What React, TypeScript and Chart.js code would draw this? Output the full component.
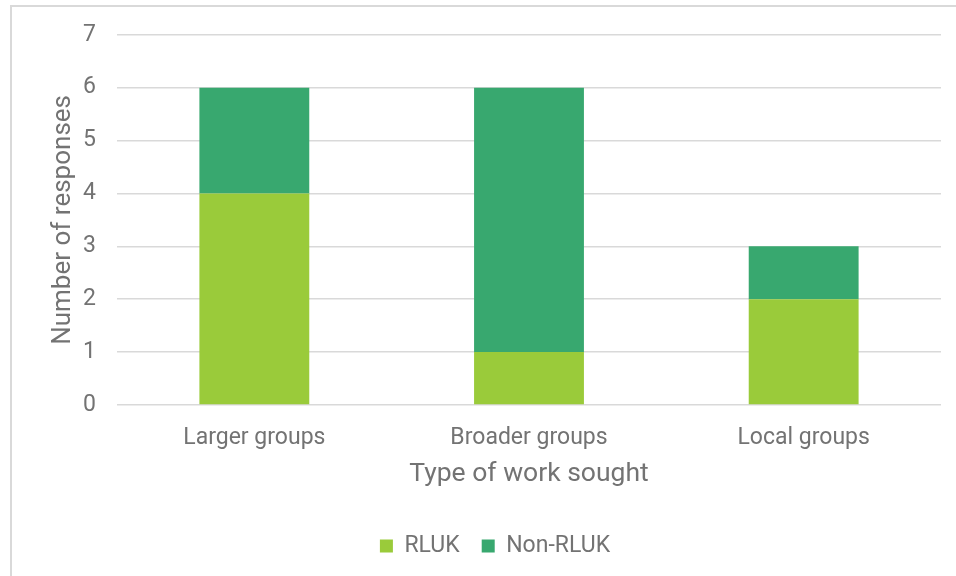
import React, { useEffect, useRef } from "react";
import { Chart, registerables } from "chart.js";

Chart.register(...registerables);

const categories = ["Larger groups", "Broader groups", "Local groups"];
const rlukValues = [4, 1, 2];
const nonRlukValues = [2, 5, 1];
const seriesNames = ["RLUK", "Non-RLUK"];
const yTitle = "Number of responses";
const xTitle = "Type of work sought";

const FONT = "Roboto, 'Noto Sans', sans-serif";
const TEXT = "#737373";
const GRID = "#d9d9d9";

export default function App() {
  const ref = useRef<HTMLCanvasElement | null>(null);

  useEffect(() => {
    if (!ref.current) return;
    const chart = new Chart(ref.current, {
      type: "bar",
      data: {
        labels: categories,
        datasets: [
          {
            label: seriesNames[0],
            data: rlukValues,
            backgroundColor: "#9ACB3A",
            borderWidth: 0,
          },
          {
            label: seriesNames[1],
            data: nonRlukValues,
            backgroundColor: "#38A86F",
            borderWidth: 0,
          },
        ],
      },
      options: {
        responsive: false,
        animation: false,
        devicePixelRatio: 1,
        layout: { padding: { left: 49, right: 15, top: 34, bottom: 8.5 } },
        datasets: { bar: { barPercentage: 0.4, categoryPercentage: 1 } },
        plugins: {
          tooltip: { enabled: false },
          legend: {
            position: "bottom",
            labels: {
              boxWidth: 13,
              boxHeight: 13,
              padding: 22,
              color: TEXT,
              font: { family: FONT, size: 23 },
            },
          },
        },
        scales: {
          x: {
            stacked: true,
            grid: { display: false },
            border: { display: false },
            ticks: {
              color: TEXT,
              padding: 11,
              font: { family: FONT, size: 23 },
            },
            title: {
              display: true,
              text: xTitle,
              color: TEXT,
              font: { family: FONT, size: 26.5 },
              padding: { top: 0, bottom: 22.1 },
            },
            afterFit: (s: any) => {
              s.height = 107.5;
            },
          },
          y: {
            stacked: true,
            min: 0,
            max: 7,
            ticks: {
              stepSize: 1,
              color: TEXT,
              padding: 21,
              font: { family: FONT, size: 23 },
            },
            grid: { color: GRID, lineWidth: 1.5, drawTicks: false },
            border: { display: false },
            title: {
              display: true,
              text: yTitle,
              color: TEXT,
              font: { family: FONT, size: 26, lineHeight: 1.1 },
              padding: { top: 0, bottom: 0 },
            },
            afterFit: (s: any) => {
              s.width = 68;
            },
          },
        },
      },
    });
    return () => chart.destroy();
  }, []);

  return (
    <>
      <div
        style={{
          position: "fixed",
          left: 10,
          top: 5,
          width: 946,
          height: 571,
          borderLeft: "2px solid #d9d9d9",
          borderTop: "2px solid #d9d9d9",
          boxSizing: "border-box",
        }}
      />
      <canvas
        ref={ref}
        width={956}
        height={576}
        style={{ position: "fixed", left: 0, top: 0, width: 956, height: 576 }}
      />
    </>
  );
}
